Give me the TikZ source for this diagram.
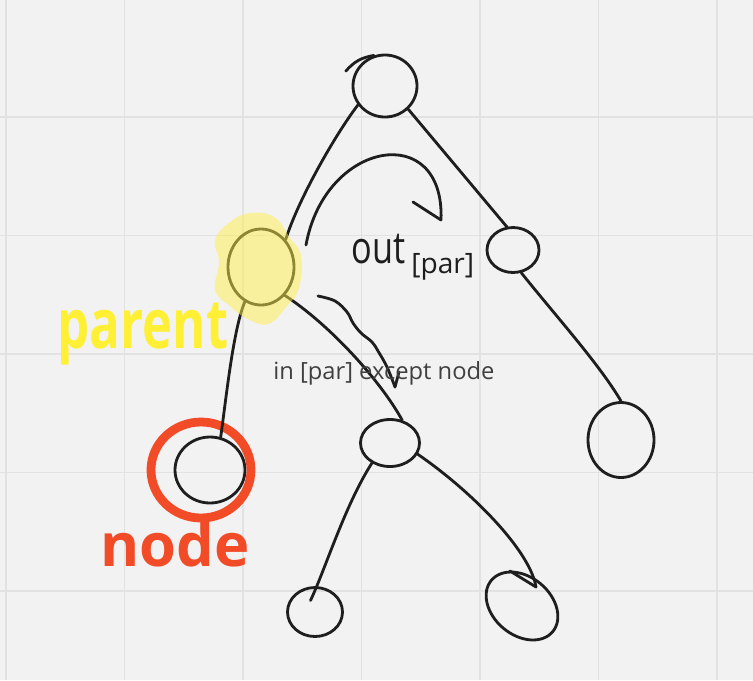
\documentclass[tikz,border=0pt]{standalone}
\usepackage{fontspec}
\usepackage{graphicx}
\setmainfont{Open Sans}
\usetikzlibrary{shapes.geometric,calc}
\definecolor{bg}{HTML}{F2F2F2}
\definecolor{gridc}{HTML}{E2E2E2}
\definecolor{ink}{HTML}{1E1E1E}
\definecolor{hl}{HTML}{FFEF4A}
\definecolor{pen}{HTML}{FFF036}
\definecolor{redpen}{HTML}{F24B27}
\definecolor{labelgray}{HTML}{404040}
\newlength\pxu
\setlength\pxu{0.02cm}
\begin{document}
\begin{tikzpicture}[x=0.02cm,y=-0.02cm,
  gridline/.style={draw=gridc, line width=1.1pt},
  treenode/.style={draw=ink, ellipse, line width=1.6pt, inner sep=0pt},
  edge/.style={draw=ink, line width=1.6pt, line cap=round, line join=round},
  ringstyle/.style={draw=redpen, ellipse, line width=5pt, inner sep=0pt},
  handlabel/.style={inner sep=0pt, anchor=base west}]
% background and grid
\fill[bg] (0,0) rectangle (753,680);
\useasboundingbox (0,0) rectangle (753,680);
\foreach \gx in {6,124.5,243,361.5,480,598.5,717}
  \draw[gridline] (\gx,0) -- (\gx,680);
\foreach \gy in {117,235.5,354,472.5,591}
  \draw[gridline] (0,\gy) -- (753,\gy);

% tree nodes
\node[treenode, minimum width=64\pxu, minimum height=62\pxu] (root) at (385,86) {};
\node[treenode, minimum width=66\pxu, minimum height=76\pxu] (parent) at (261,267) {};
\node[treenode, minimum width=52\pxu, minimum height=45\pxu] (rc) at (513,250) {};
\node[treenode, minimum width=66\pxu, minimum height=75\pxu] (rrl) at (621,440) {};
\node[treenode, minimum width=70\pxu, minimum height=66\pxu] (nodeN) at (210,470) {};
\node[treenode, minimum width=59\pxu, minimum height=47\pxu] (mid) at (390,443) {};
\node[treenode, minimum width=55\pxu, minimum height=49\pxu] (bl) at (315,612) {};
\node[treenode, minimum width=80\pxu, minimum height=58\pxu, rotate=-40] (br) at (522,606) {};

% red ring around node
\node[ringstyle, minimum width=100\pxu, minimum height=96\pxu] (ring) at (201,470) {};

% root hook stroke
\draw[edge] ([shift={(-6pt,-1pt)}]root.150) to[bend left=20] (root.110);

% edges
\draw[edge] (root.215) .. controls (335,135) and (298,200) .. (parent.48);
\draw[edge] (root.-45) -- (rc.105);
\draw[edge] (rc.-70) .. controls (555,315) and (600,365) .. (rrl.north);
\draw[edge] (parent.245) .. controls (233,330) and (226,400) .. (nodeN.72);
\draw[edge] (parent.-50) .. controls (330,325) and (380,380) .. (mid.62);
\draw[edge] (mid.228) .. controls (345,505) and (325,570) .. ([yshift=-8pt]bl.100);
\coordinate (brEnd) at ($(br.center)+(14,-19)$);
\draw[edge] (mid.-22) .. controls (470,490) and (530,550) .. (brEnd);
\draw[edge] ($(br.center)+(-12,-35)$) -- (brEnd);

% out[par] arrow
\coordinate (outS) at (306,245);
\coordinate (outE) at (441,220);
\coordinate (outB) at (413,202);
\draw[edge] (outS) .. controls (325,140) and (445,120) .. (outE);
\draw[edge] (outE) -- (outB);

% in [par] except node arrow
\coordinate (inS) at (318,296);
\coordinate (inE) at (395,387);
\coordinate (inB) at (399,372);
\draw[edge] plot[smooth, tension=0.6] coordinates {(inS) (335,301) (347,312) (353,323) (361,333) (372,342) (378,351) (387,367) (inE)};
\draw[edge] (inE) -- (inB);

% highlight over parent
\fill[hl, opacity=0.5] plot[smooth cycle, tension=0.7] coordinates {(250,213) (274,217) (290,238) (301,256) (299,288) (287,306) (268,324) (246,318) (230,306) (215,290) (219,262) (215,240) (230,222)};

% labels
\node[handlabel, text=pen, font=\bfseries\fontsize{29}{29}\selectfont] (parentlbl) at (57,348) {\scalebox{1}[1.35]{parent}};
\node[handlabel, text=redpen, font=\bfseries\fontsize{34}{34}\selectfont] (nodelbl) at (100,566) {node};
\node[handlabel, text=ink, font=\fontsize{19.5}{19.5}\selectfont] (outlbl) at (351,263) {\scalebox{1}[1.3]{out}};
\node[handlabel, text=ink, font=\fontsize{16}{16}\selectfont] (parlbl) at (411,273) {[par]};
\node[handlabel, text=labelgray, font=\fontsize{13.5}{13.5}\selectfont] (inlbl) at (273,379) {in [par] except node};
\end{tikzpicture}
\end{document}
